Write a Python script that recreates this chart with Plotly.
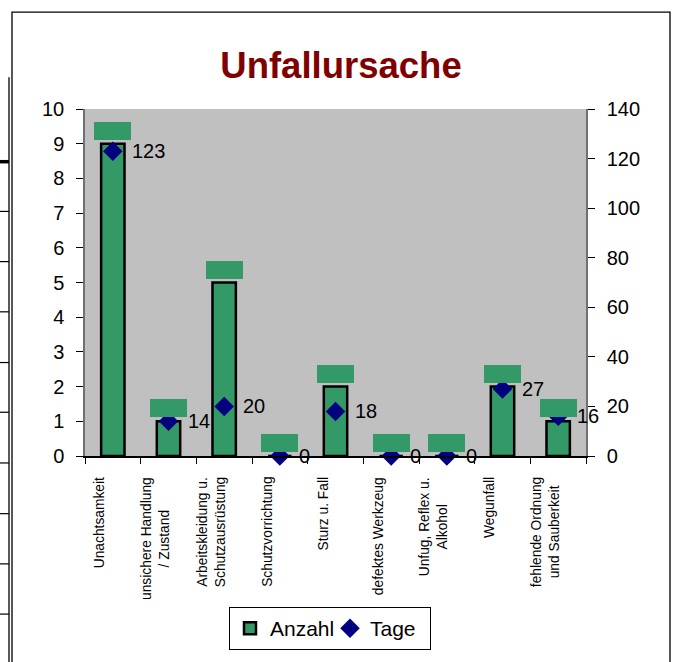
import plotly.graph_objects as go

categories = [
    "Unachtsamkeit",
    "unsichere Handlung<br>/ Zustand",
    "Arbeitskleidung u.<br>Schutzausrüstung",
    "Schutzvorrichtung",
    "Sturz u. Fall",
    "defektes Werkzeug",
    "Unfug, Reflex u.<br>Alkohol",
    "Wegunfall",
    "fehlende Ordnung<br>und Sauberkeit",
]
anzahl = [9, 1, 5, 0, 2, 0, 0, 2, 1]
tage = [123, 14, 20, 0, 18, 0, 0, 27, 16]
left_ticks = list(range(0, 11))
right_ticks = list(range(0, 141, 20))

GREEN = "#339966"
NAVY = "#000080"
GRAY = "#C0C0C0"
FONT = "Arial, 'Liberation Sans', sans-serif"

# plot area in pixels (for decorative frame shapes)
L, R, T, B = 85, 586, 109, 458
W, H = 678, 662


def px(x):
    return (x - L) / (R - L)


def py(y):
    return (B - y) / (B - T)


fig = go.Figure()
fig.add_trace(go.Bar(
    x=categories, y=anzahl, name="Anzahl", yaxis="y",
    marker=dict(color=GREEN, line=dict(color="black", width=2.5)),
    width=0.42,
))
fig.add_trace(go.Scatter(
    x=categories, y=tage, name="Tage", yaxis="y2", mode="markers",
    marker=dict(symbol="diamond", size=15, color=NAVY),
    cliponaxis=False,
))

annotations = []
# green (data label) boxes above bars
for c, v in zip(categories, anzahl):
    annotations.append(dict(
        x=c, y=v, xref="x", yref="y", text=str(v), showarrow=False,
        yanchor="bottom", yshift=4, width=37, height=18,
        bgcolor=GREEN, borderpad=0, borderwidth=0,
        font=dict(color=GREEN, size=11, family=FONT),
    ))
# Tage value labels
for c, v in zip(categories, tage):
    annotations.append(dict(
        x=c, y=v, xref="x", yref="y2", text=str(v), showarrow=False,
        xanchor="left", yanchor="middle", xshift=17,
        font=dict(color="black", size=20, family=FONT),
    ))
# category labels (rotated, centered lines)
for c in categories:
    annotations.append(dict(
        x=c, y=0, xref="x", yref="paper", text=c, showarrow=False,
        textangle=-90, xanchor="center", yanchor="top", align="center",
        xshift=-13, yshift=-19,
        font=dict(color="black", size=13.8, family=FONT),
    ))

shapes = [
    # chart frame
    dict(type="rect", xref="paper", yref="paper",
         x0=px(12), x1=px(670), y0=py(700), y1=py(11.5),
         line=dict(color="black", width=1.3), layer="below"),
    # spreadsheet column line on the left
    dict(type="line", xref="paper", yref="paper",
         x0=px(9), x1=px(9), y0=py(77), y1=py(700),
         line=dict(color="black", width=1.3)),
]
for yy, lw in [(162, 3.5), (212, 1.2), (262.5, 1.2), (313, 1.2), (364, 1.2),
               (414, 1.2), (465, 1.2), (516, 1.2), (566.5, 1.2), (617, 1.2)]:
    shapes.append(dict(type="line", xref="paper", yref="paper",
                       x0=px(0), x1=px(9), y0=py(yy), y1=py(yy),
                       line=dict(color="black", width=lw)))

fig.update_layout(
    width=W, height=H,
    margin=dict(l=L, r=W - R, t=T, b=H - B, pad=0),
    paper_bgcolor="white", plot_bgcolor=GRAY,
    font=dict(family=FONT, color="black", size=20),
    title=dict(text="<b>Unfallursache</b>", x=341 / W, xanchor="center",
               y=1 - 65 / H, yanchor="middle",
               font=dict(size=36.5, color="#800000", family=FONT)),
    showlegend=True,
    legend=dict(orientation="h", x=px(330), xanchor="center",
                y=py(610), yanchor="top",
                bgcolor="white", bordercolor="black", borderwidth=1,
                font=dict(size=21, family=FONT), itemwidth=30,
                entrywidth=55, tracegroupgap=0),
    xaxis=dict(
        type="category", showticklabels=False, tickson="boundaries",
        ticks="outside", ticklen=6, tickcolor="black", tickwidth=1.3,
        showline=True, linecolor="black", linewidth=1.5,
        showgrid=False, zeroline=False, range=[-0.5, 8.5],
    ),
    yaxis=dict(
        range=[0, 10], tickvals=left_ticks, ticks="outside", ticklen=7,
        tickcolor="black", tickwidth=1.3, showline=True, linecolor="#707070",
        linewidth=1.5, showgrid=False, zeroline=False,
        tickfont=dict(size=20, family=FONT), ticklabelstandoff=8,
    ),
    yaxis2=dict(
        range=[0, 140], tickvals=right_ticks, overlaying="y", side="right",
        ticks="outside", ticklen=7, tickcolor="black", tickwidth=1.3,
        showline=True, linecolor="#707070", linewidth=1.5,
        showgrid=False, zeroline=False,
        tickfont=dict(size=20, family=FONT), ticklabelstandoff=8,
    ),
    annotations=annotations,
    shapes=shapes,
)

fig.write_html("out.html", config={"displayModeBar": False},
               post_script="document.body.style.margin='0';document.body.style.overflow='hidden';")
